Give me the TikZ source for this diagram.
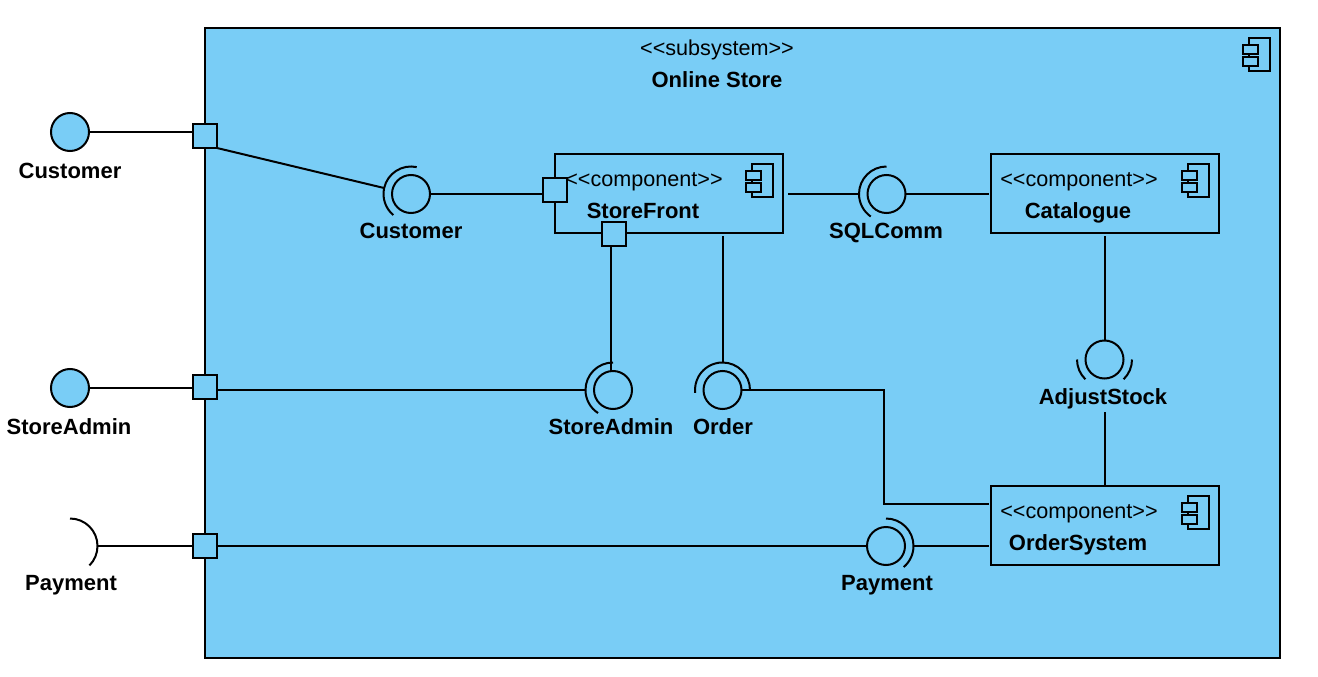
\documentclass[tikz,border=0pt]{standalone}
\usepackage{fontspec}
\setmainfont{Liberation Sans}
\definecolor{umlblue}{HTML}{79CDF6}
\tikzset{
  x=1pt,y=1pt,
  boxnode/.style={draw,fill=umlblue,rectangle,inner sep=0pt,outer sep=0pt},
  compbox/.style={boxnode,minimum width=228pt,minimum height=79pt},
  portbox/.style={boxnode,minimum width=24pt,minimum height=24pt},
  ball/.style={draw,fill=umlblue,circle,inner sep=0pt,outer sep=0pt,minimum size=38pt},
  stereo/.style={inner sep=0pt,anchor=base,font=\fontsize{21.6}{26}\selectfont},
  namelabel/.style={inner sep=0pt,anchor=base,font=\fontsize{22}{26}\selectfont\bfseries},
  socket/.style={fill=none},
  wire/.style={}
}
\newcommand{\compIcon}[1]{%
  \draw ([shift={(-31,-10)}]#1) rectangle ([shift={(-10,-43)}]#1);
  \draw[fill=umlblue] ([shift={(-37,-17)}]#1) rectangle ([shift={(-22,-26)}]#1);
  \draw[fill=umlblue] ([shift={(-37,-29)}]#1) rectangle ([shift={(-22,-38)}]#1);
}
\newcommand{\sockArc}[3]{%
  \draw[socket] ([shift={(#2:27.5pt)}]#1.center) arc[start angle=#2,end angle=#3,radius=27.5pt];
}
\begin{document}
\begin{tikzpicture}[line width=2pt]
\useasboundingbox (0,0) rectangle (1318,-677);
% main subsystem
\node[boxnode,minimum width=1075pt,minimum height=630pt] (sys) at (742.5,-343) {};
\compIcon{sys.north east}

% components
\node[compbox] (sf) at (669,-193.5) {};
\node[compbox] (cat) at (1105,-193.5) {};
\node[compbox] (os) at (1105,-525.5) {};
\compIcon{sf.north east}
\compIcon{cat.north east}
\compIcon{os.north east}

% balls
\node[ball] (extC) at (70,-132) {};
\node[ball] (extA) at (70,-388) {};
\coordinate (extP) at (70,-546);
\node[ball] (iC) at (411,-194) {};
\node[ball] (iSA) at (613,-390) {};
\node[ball] (iO) at (722.5,-390) {};
\node[ball] (iSQL) at (886.5,-194) {};
\node[ball] (iAS) at (1104.5,-359.5) {};
\node[ball] (iP) at (886,-546) {};

% sockets
\sockArc{iC}{78}{230}
\sockArc{iSA}{90}{237}
\sockArc{iO}{0}{186}
\sockArc{iSQL}{90}{235}
\sockArc{iAS}{180}{226}
\sockArc{iAS}{-46}{0}
\sockArc{iP}{90}{-50}
\sockArc{extP}{90}{-45}

% port boxes
\node[portbox] (p1) at (205,-136) {};
\node[portbox] (p2) at (205,-387) {};
\node[portbox] (p3) at (205,-546) {};
\node[portbox] (p4) at (555,-190) {};
\node[portbox] (p5) at (614,-234) {};

% free ends
\coordinate (pPayEnd) at (97.5,-546);
\coordinate (iCsock) at (384,-188);
\coordinate (iSAsock) at (585.5,-390);
\coordinate (iOtop) at (723,-362.5);
\coordinate (iSQLsock) at (859,-194);
\coordinate (iPsock) at (913.5,-546);
\coordinate (bendA) at (884,-390);
\coordinate (bendB) at (884,-504);
\coordinate (osW) at (989,-504);
\coordinate (sfE) at (788,-194);
\coordinate (catW) at (989,-194);
\coordinate (osW2) at (989,-546);
\coordinate (sfOrder) at (723,-236);
\coordinate (catS) at (1105,-236);
\coordinate (asLow) at (1105,-412);
\coordinate (p5drop) at (611,-246);
\coordinate (iSAdrop) at (611,-371);

% connectors
\draw[wire] (extC.east) -- (p1.west |- extC.east);
\draw[wire] (extA.east) -- (p2.west |- extA.east);
\draw[wire] (pPayEnd) -- (p3.west);
\draw[wire] (p3.east) -- (iP.west);
\draw[wire] (p2.east |- iSAsock) -- (iSAsock);
\draw[wire] (iC.east) -- (p4.west |- iC.east);
\draw[wire] (p5drop) -- (iSAdrop);
\draw[wire] (sfOrder) -- (iOtop);
\draw[wire] (iO.east) -- (bendA) -- (bendB) -- (osW);
\draw[wire] (sfE) -- (iSQLsock);
\draw[wire] (iSQL.east) -- (catW);
\draw[wire] (catS) -- (iAS.north -| catS);
\draw[wire] (asLow) -- (os.north -| asLow);
\draw[wire] (iPsock) -- (osW2);
\draw[wire] (p1.south east) -- (iCsock);

% labels
\node[stereo] (sysS) at (717,-56) {<{}<subsystem>{}>};
\node[namelabel] (sysN) at (717,-88) {Online Store};
\node[namelabel] (lC) at (70,-178) {Customer};
\node[namelabel] (lA) at (69,-434) {StoreAdmin};
\node[namelabel] (lP) at (71,-590) {Payment};
\node[namelabel] (liC) at (411,-238) {Customer};
\node[namelabel] (liSQL) at (886,-238) {SQLComm};
\node[namelabel] (liSA) at (611,-434) {StoreAdmin};
\node[namelabel] (liO) at (723,-434) {Order};
\node[namelabel] (liAS) at (1103,-404) {AdjustStock};
\node[namelabel] (liP) at (887,-590) {Payment};
\node[stereo] (sS) at (644,-186) {<{}<component>{}>};
\node[namelabel] (sN) at (643,-218) {StoreFront};
\node[stereo] (cS) at (1079,-186) {<{}<component>{}>};
\node[namelabel] (cN) at (1078,-218) {Catalogue};
\node[stereo] (oS) at (1079,-518) {<{}<component>{}>};
\node[namelabel] (oN) at (1078,-550) {OrderSystem};
\end{tikzpicture}
\end{document}
